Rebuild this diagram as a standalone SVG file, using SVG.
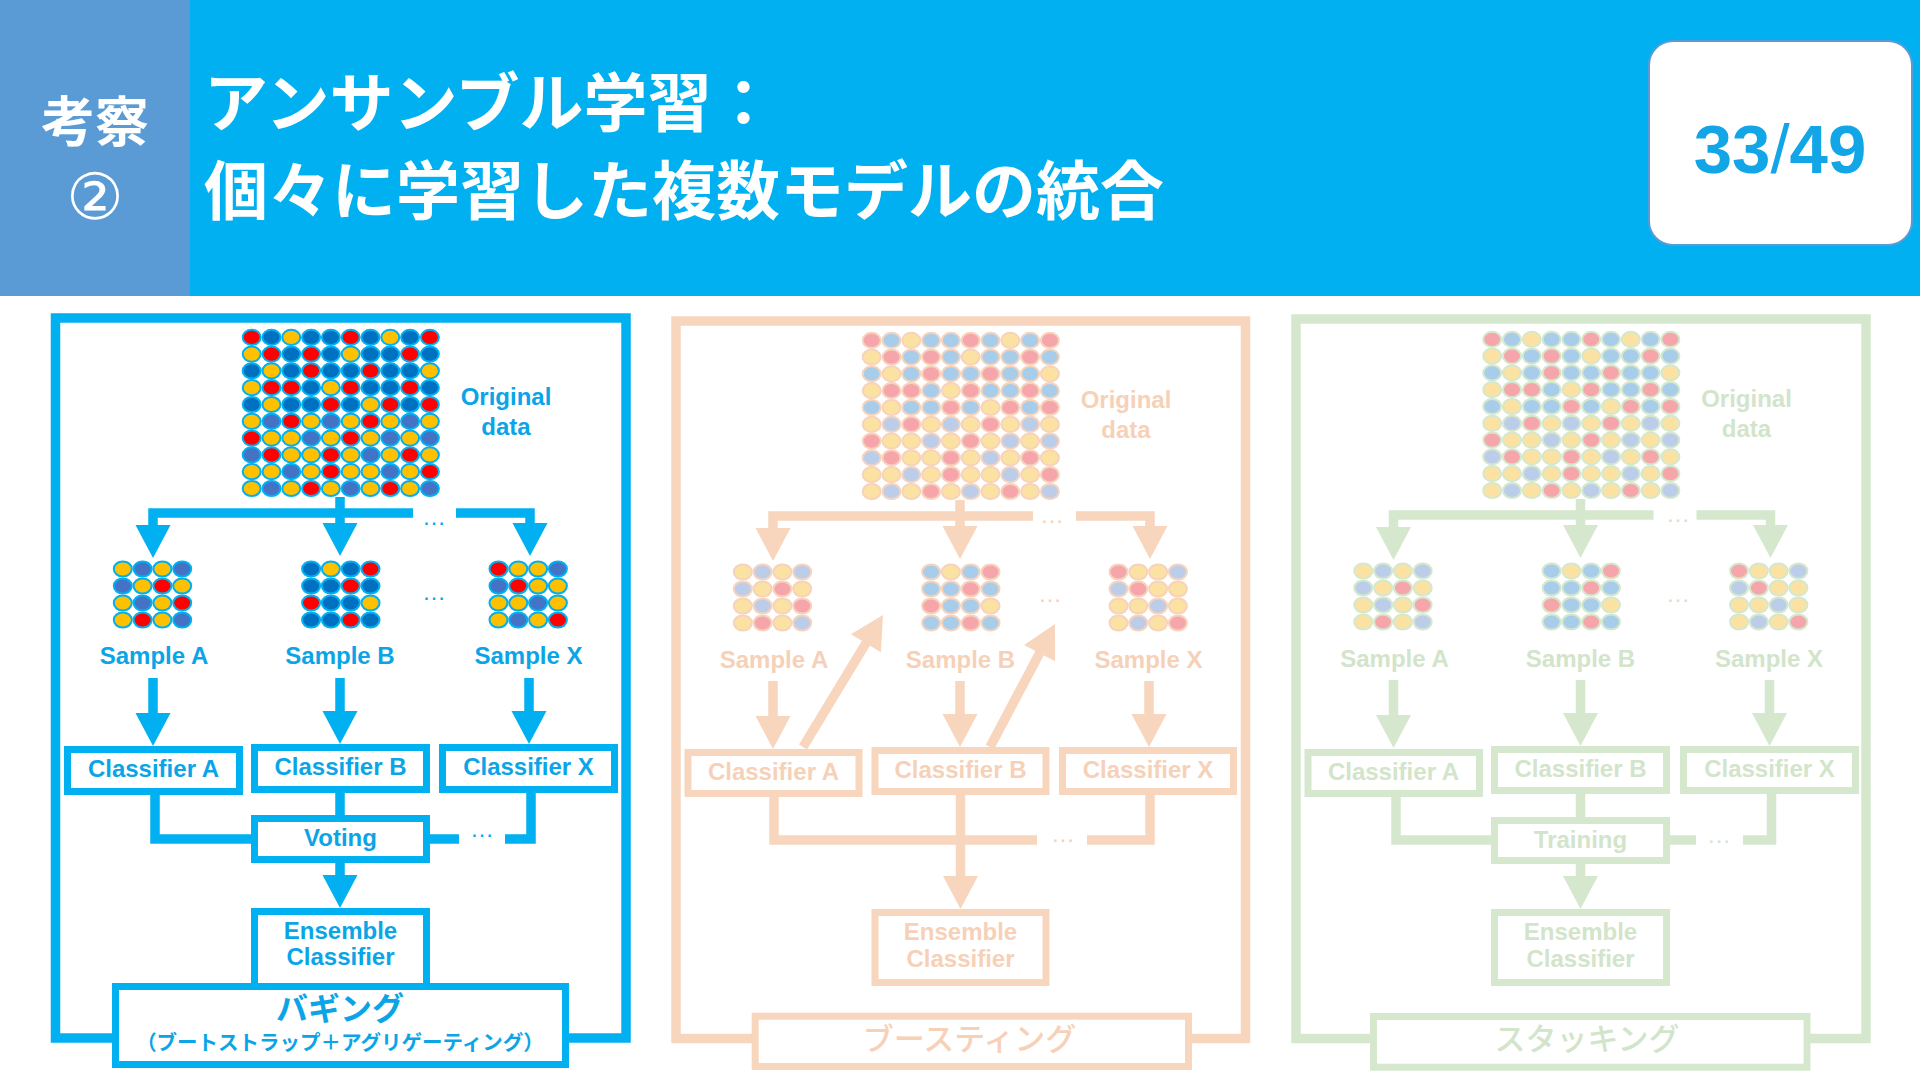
<svg xmlns="http://www.w3.org/2000/svg" xmlns:xlink="http://www.w3.org/1999/xlink" width="1920" height="1080" viewBox="0 0 1920 1080">
<style>
.lbl{font-family:"Liberation Sans",Arial,sans-serif;font-weight:bold;font-size:24px;text-anchor:middle}
.jp{font-family:"Noto Sans CJK JP","Noto Sans CJK SC",sans-serif}
.dots3{font-family:"Liberation Sans",Arial,sans-serif;font-size:24px;text-anchor:middle}
.ln{fill:none;stroke-width:9.5;stroke-linejoin:miter;stroke-linecap:butt}
.fr{fill:none;stroke-width:9.5}
.bx{fill:#fff;stroke-width:7}
.p1 .ln,.p1 .fr,.p1 .bx{stroke:#00B0F0}
.p1 .tx{fill:#0BA5E7}
.p1 .ah{fill:#00B0F0;stroke:none}
.p1 use.d{stroke:#00B0F0;stroke-width:2}
.p1 .cR{fill:#FF0000}.p1 .cB{fill:#0070C0}.p1 .cY{fill:#FFC000}.p1 .cM{fill:#4472C4}
.p2 .ln,.p2 .fr,.p2 .bx{stroke:#F8D5BD}
.p2 .tx{fill:#F6D1B8}
.p2 .ah{fill:#F8D5BD;stroke:none}
.p2 use.d{stroke:#F6D3BC;stroke-width:2}
.p3 .ln,.p3 .fr,.p3 .bx{stroke:#D5E8CE}
.p3 .tx{fill:#D2E4CA}
.p3 .ah{fill:#D5E8CE;stroke:none}
.p3 use.d{stroke:#D5E8CE;stroke-width:2}
.p2 .cR,.p3 .cR{fill:#F6A6AA}.p2 .cB,.p3 .cB{fill:#A8CDEA}.p2 .cY,.p3 .cY{fill:#FCE2A2}.p2 .cM,.p3 .cM{fill:#BCCDEA}
</style>
<defs>
<path id="ah" d="M-17.5,-33H17.5L0,0Z"/>
<g id="bR">
<ellipse cx="0" cy="0" rx="9" ry="7.6"/><ellipse cx="99" cy="0" rx="9" ry="7.6"/><ellipse cx="178.2" cy="0" rx="9" ry="7.6"/>
<ellipse cx="19.8" cy="16.8" rx="9" ry="7.6"/><ellipse cx="59.4" cy="16.8" rx="9" ry="7.6"/><ellipse cx="158.4" cy="16.8" rx="9" ry="7.6"/>
<ellipse cx="59.4" cy="33.6" rx="9" ry="7.6"/><ellipse cx="118.8" cy="33.6" rx="9" ry="7.6"/>
<ellipse cx="19.8" cy="50.4" rx="9" ry="7.6"/><ellipse cx="39.6" cy="50.4" rx="9" ry="7.6"/><ellipse cx="99" cy="50.4" rx="9" ry="7.6"/><ellipse cx="158.4" cy="50.4" rx="9" ry="7.6"/>
<ellipse cx="79.2" cy="67.2" rx="9" ry="7.6"/><ellipse cx="138.6" cy="67.2" rx="9" ry="7.6"/><ellipse cx="178.2" cy="67.2" rx="9" ry="7.6"/>
<ellipse cx="39.6" cy="84" rx="9" ry="7.6"/><ellipse cx="118.8" cy="84" rx="9" ry="7.6"/>
<ellipse cx="0" cy="100.8" rx="9" ry="7.6"/><ellipse cx="99" cy="100.8" rx="9" ry="7.6"/>
<ellipse cx="19.8" cy="117.6" rx="9" ry="7.6"/><ellipse cx="79.2" cy="117.6" rx="9" ry="7.6"/><ellipse cx="158.4" cy="117.6" rx="9" ry="7.6"/>
<ellipse cx="79.2" cy="134.4" rx="9" ry="7.6"/><ellipse cx="178.2" cy="134.4" rx="9" ry="7.6"/>
<ellipse cx="59.4" cy="151.2" rx="9" ry="7.6"/><ellipse cx="138.6" cy="151.2" rx="9" ry="7.6"/>
</g>
<g id="bB">
<ellipse cx="19.8" cy="0" rx="9" ry="7.6"/><ellipse cx="59.4" cy="0" rx="9" ry="7.6"/><ellipse cx="79.2" cy="0" rx="9" ry="7.6"/><ellipse cx="118.8" cy="0" rx="9" ry="7.6"/><ellipse cx="158.4" cy="0" rx="9" ry="7.6"/>
<ellipse cx="39.6" cy="16.8" rx="9" ry="7.6"/><ellipse cx="79.2" cy="16.8" rx="9" ry="7.6"/><ellipse cx="118.8" cy="16.8" rx="9" ry="7.6"/><ellipse cx="138.6" cy="16.8" rx="9" ry="7.6"/><ellipse cx="178.2" cy="16.8" rx="9" ry="7.6"/>
<ellipse cx="0" cy="33.6" rx="9" ry="7.6"/><ellipse cx="39.6" cy="33.6" rx="9" ry="7.6"/><ellipse cx="79.2" cy="33.6" rx="9" ry="7.6"/><ellipse cx="99" cy="33.6" rx="9" ry="7.6"/><ellipse cx="138.6" cy="33.6" rx="9" ry="7.6"/><ellipse cx="158.4" cy="33.6" rx="9" ry="7.6"/>
<ellipse cx="59.4" cy="50.4" rx="9" ry="7.6"/><ellipse cx="118.8" cy="50.4" rx="9" ry="7.6"/><ellipse cx="138.6" cy="50.4" rx="9" ry="7.6"/><ellipse cx="178.2" cy="50.4" rx="9" ry="7.6"/>
<ellipse cx="0" cy="67.2" rx="9" ry="7.6"/><ellipse cx="39.6" cy="67.2" rx="9" ry="7.6"/><ellipse cx="59.4" cy="67.2" rx="9" ry="7.6"/><ellipse cx="99" cy="67.2" rx="9" ry="7.6"/><ellipse cx="158.4" cy="67.2" rx="9" ry="7.6"/>
</g>
<g id="bY">
<ellipse cx="39.6" cy="0" rx="9" ry="7.6"/><ellipse cx="138.6" cy="0" rx="9" ry="7.6"/>
<ellipse cx="0" cy="16.8" rx="9" ry="7.6"/><ellipse cx="99" cy="16.8" rx="9" ry="7.6"/>
<ellipse cx="19.8" cy="33.6" rx="9" ry="7.6"/><ellipse cx="178.2" cy="33.6" rx="9" ry="7.6"/>
<ellipse cx="0" cy="50.4" rx="9" ry="7.6"/><ellipse cx="79.2" cy="50.4" rx="9" ry="7.6"/>
<ellipse cx="19.8" cy="67.2" rx="9" ry="7.6"/><ellipse cx="118.8" cy="67.2" rx="9" ry="7.6"/>
<ellipse cx="0" cy="84" rx="9" ry="7.6"/><ellipse cx="59.4" cy="84" rx="9" ry="7.6"/><ellipse cx="99" cy="84" rx="9" ry="7.6"/><ellipse cx="138.6" cy="84" rx="9" ry="7.6"/><ellipse cx="178.2" cy="84" rx="9" ry="7.6"/>
<ellipse cx="19.8" cy="100.8" rx="9" ry="7.6"/><ellipse cx="39.6" cy="100.8" rx="9" ry="7.6"/><ellipse cx="79.2" cy="100.8" rx="9" ry="7.6"/><ellipse cx="118.8" cy="100.8" rx="9" ry="7.6"/><ellipse cx="158.4" cy="100.8" rx="9" ry="7.6"/>
<ellipse cx="39.6" cy="117.6" rx="9" ry="7.6"/><ellipse cx="59.4" cy="117.6" rx="9" ry="7.6"/><ellipse cx="99" cy="117.6" rx="9" ry="7.6"/><ellipse cx="138.6" cy="117.6" rx="9" ry="7.6"/><ellipse cx="178.2" cy="117.6" rx="9" ry="7.6"/>
<ellipse cx="0" cy="134.4" rx="9" ry="7.6"/><ellipse cx="19.8" cy="134.4" rx="9" ry="7.6"/><ellipse cx="59.4" cy="134.4" rx="9" ry="7.6"/><ellipse cx="99" cy="134.4" rx="9" ry="7.6"/><ellipse cx="118.8" cy="134.4" rx="9" ry="7.6"/><ellipse cx="158.4" cy="134.4" rx="9" ry="7.6"/>
<ellipse cx="0" cy="151.2" rx="9" ry="7.6"/><ellipse cx="39.6" cy="151.2" rx="9" ry="7.6"/><ellipse cx="79.2" cy="151.2" rx="9" ry="7.6"/><ellipse cx="118.8" cy="151.2" rx="9" ry="7.6"/><ellipse cx="158.4" cy="151.2" rx="9" ry="7.6"/>
</g>
<g id="bM">
<ellipse cx="19.8" cy="84" rx="9" ry="7.6"/><ellipse cx="79.2" cy="84" rx="9" ry="7.6"/><ellipse cx="158.4" cy="84" rx="9" ry="7.6"/>
<ellipse cx="59.4" cy="100.8" rx="9" ry="7.6"/><ellipse cx="138.6" cy="100.8" rx="9" ry="7.6"/><ellipse cx="178.2" cy="100.8" rx="9" ry="7.6"/>
<ellipse cx="0" cy="117.6" rx="9" ry="7.6"/><ellipse cx="118.8" cy="117.6" rx="9" ry="7.6"/>
<ellipse cx="39.6" cy="134.4" rx="9" ry="7.6"/><ellipse cx="138.6" cy="134.4" rx="9" ry="7.6"/>
<ellipse cx="19.8" cy="151.2" rx="9" ry="7.6"/><ellipse cx="99" cy="151.2" rx="9" ry="7.6"/><ellipse cx="178.2" cy="151.2" rx="9" ry="7.6"/>
</g>
<g id="aY"><ellipse cx="0" cy="0" rx="9" ry="7.6"/><ellipse cx="39.6" cy="0" rx="9" ry="7.6"/><ellipse cx="19.8" cy="17" rx="9" ry="7.6"/><ellipse cx="59.4" cy="17" rx="9" ry="7.6"/><ellipse cx="0" cy="34" rx="9" ry="7.6"/><ellipse cx="39.6" cy="34" rx="9" ry="7.6"/><ellipse cx="0" cy="51" rx="9" ry="7.6"/><ellipse cx="39.6" cy="51" rx="9" ry="7.6"/></g>
<g id="aM"><ellipse cx="19.8" cy="0" rx="9" ry="7.6"/><ellipse cx="59.4" cy="0" rx="9" ry="7.6"/><ellipse cx="0" cy="17" rx="9" ry="7.6"/><ellipse cx="19.8" cy="34" rx="9" ry="7.6"/><ellipse cx="59.4" cy="51" rx="9" ry="7.6"/></g>
<g id="aR"><ellipse cx="39.6" cy="17" rx="9" ry="7.6"/><ellipse cx="59.4" cy="34" rx="9" ry="7.6"/><ellipse cx="19.8" cy="51" rx="9" ry="7.6"/></g>
<g id="sbB"><ellipse cx="0" cy="0" rx="9" ry="7.6"/><ellipse cx="39.6" cy="0" rx="9" ry="7.6"/><ellipse cx="0" cy="17" rx="9" ry="7.6"/><ellipse cx="19.8" cy="17" rx="9" ry="7.6"/><ellipse cx="59.4" cy="17" rx="9" ry="7.6"/><ellipse cx="19.8" cy="34" rx="9" ry="7.6"/><ellipse cx="39.6" cy="34" rx="9" ry="7.6"/><ellipse cx="0" cy="51" rx="9" ry="7.6"/><ellipse cx="19.8" cy="51" rx="9" ry="7.6"/><ellipse cx="59.4" cy="51" rx="9" ry="7.6"/></g>
<g id="sbY"><ellipse cx="19.8" cy="0" rx="9" ry="7.6"/><ellipse cx="59.4" cy="34" rx="9" ry="7.6"/></g>
<g id="sbR"><ellipse cx="59.4" cy="0" rx="9" ry="7.6"/><ellipse cx="39.6" cy="17" rx="9" ry="7.6"/><ellipse cx="0" cy="34" rx="9" ry="7.6"/><ellipse cx="39.6" cy="51" rx="9" ry="7.6"/></g>
<g id="xR"><ellipse cx="0" cy="0" rx="9" ry="7.6"/><ellipse cx="19.8" cy="17" rx="9" ry="7.6"/><ellipse cx="59.4" cy="51" rx="9" ry="7.6"/></g>
<g id="xY"><ellipse cx="19.8" cy="0" rx="9" ry="7.6"/><ellipse cx="39.6" cy="0" rx="9" ry="7.6"/><ellipse cx="39.6" cy="17" rx="9" ry="7.6"/><ellipse cx="59.4" cy="17" rx="9" ry="7.6"/><ellipse cx="0" cy="34" rx="9" ry="7.6"/><ellipse cx="19.8" cy="34" rx="9" ry="7.6"/><ellipse cx="59.4" cy="34" rx="9" ry="7.6"/><ellipse cx="0" cy="51" rx="9" ry="7.6"/><ellipse cx="39.6" cy="51" rx="9" ry="7.6"/></g>
<g id="xM"><ellipse cx="59.4" cy="0" rx="9" ry="7.6"/><ellipse cx="0" cy="17" rx="9" ry="7.6"/><ellipse cx="39.6" cy="34" rx="9" ry="7.6"/><ellipse cx="19.8" cy="51" rx="9" ry="7.6"/></g>
</defs>

<rect width="1920" height="1080" fill="#ffffff"/>

<g id="header">
<rect x="190" y="0" width="1730" height="296" fill="#00B0F0"/>
<rect x="0" y="0" width="190" height="296" fill="#5B9BD5"/>
<text class="jp" x="95" y="142" font-size="54" font-weight="bold" fill="#fff" text-anchor="middle">考察</text>
<text x="95" y="218.5" font-family="DejaVu Sans, sans-serif" font-size="64" fill="#fff" text-anchor="middle">②</text>
<text class="jp" x="204" y="126" font-size="64" font-weight="bold" fill="#fff">アンサンブル学習：</text>
<text class="jp" x="204" y="214" font-size="64" font-weight="bold" fill="#fff">個々に学習した複数モデルの統合</text>
<rect x="1649" y="41" width="263" height="204" rx="24" fill="#fff" stroke="#5B9BD5" stroke-width="2"/>
<text x="1780" y="173" font-family="Liberation Sans, Arial, sans-serif" font-size="69" font-weight="bold" fill="#12A6E6" text-anchor="middle">33<tspan font-weight="normal">/</tspan>49</text>
</g>

<g id="frames">
<rect class="p1 fr" x="55.5" y="318" width="570.5" height="720" style="stroke:#00B0F0"/>
<rect x="676" y="321" width="569.5" height="717.5" style="fill:none;stroke:#F8D5BD;stroke-width:9.5"/>
<rect x="1296" y="319" width="570" height="719.5" style="fill:none;stroke:#D5E8CE;stroke-width:9.5"/>
</g>

<g id="connectors">
<g class="p1">
<path class="ln" d="M340,497V526M413,513H153V526M456,513H530V526"/>
<use href="#ah" class="ah" x="153" y="558"/><use href="#ah" class="ah" x="340" y="556"/><use href="#ah" class="ah" x="530" y="556"/>
<path class="ln" d="M153,678V716M340,678V714M529,678V714"/>
<use href="#ah" class="ah" x="153" y="746"/><use href="#ah" class="ah" x="340" y="744"/><use href="#ah" class="ah" x="529" y="744"/>
<path class="ln" d="M155,795V839H254M340,793V818M430,839H459M505,839H531V793M340,863V878"/>
<use href="#ah" class="ah" x="340" y="908"/>
<text class="dots3 tx" x="434" y="525">…</text>
<text class="dots3 tx" x="434" y="600">…</text>
<text class="dots3 tx" x="482" y="837">…</text>
</g>
<g class="p2" transform="translate(620,3)">
<path class="ln" d="M340,497V526M413,513H153V526M456,513H530V526"/>
<use href="#ah" class="ah" x="153" y="558"/><use href="#ah" class="ah" x="340" y="556"/><use href="#ah" class="ah" x="530" y="556"/>
<path class="ln" d="M153,678V716M340,678V714M529,678V714"/>
<use href="#ah" class="ah" x="153" y="746"/><use href="#ah" class="ah" x="340" y="744"/><use href="#ah" class="ah" x="529" y="744"/>
<path class="ln" d="M183,744L247.5,637.6M370,744L421,647.5"/>
<use href="#ah" class="ah" transform="translate(263,612) rotate(-148.8)"/>
<use href="#ah" class="ah" transform="translate(435,621) rotate(-152.2)"/>
<path class="ln" d="M154,794V837H417M467,837H530V792M340.5,792V876"/>
<use href="#ah" class="ah" x="340.5" y="906"/>
<text class="dots3 tx" x="432" y="520">…</text>
<text class="dots3 tx" x="430" y="599">…</text>
<text class="dots3 tx" x="443" y="839">…</text>
</g>
<g class="p3" transform="translate(1240.5,2)">
<path class="ln" d="M340,497V526M413,513H153V526M456,513H530V526"/>
<use href="#ah" class="ah" x="153" y="558"/><use href="#ah" class="ah" x="340" y="556"/><use href="#ah" class="ah" x="530" y="556"/>
<path class="ln" d="M153,678V716M340,678V714M529,678V714"/>
<use href="#ah" class="ah" x="153" y="746"/><use href="#ah" class="ah" x="340" y="744"/><use href="#ah" class="ah" x="529" y="744"/>
<path class="ln" d="M155.5,795V838H254M340,792V815M429.5,838H455.5M502.5,838H531V792M340,862V877"/>
<use href="#ah" class="ah" x="340" y="907"/>
<text class="dots3 tx" x="437.5" y="520">…</text>
<text class="dots3 tx" x="437.5" y="600">…</text>
<text class="dots3 tx" x="478.5" y="841">…</text>
</g>
</g>

<g id="panel-bagging" class="p1">
<g id="bag-original-data">
<g transform="translate(251.7,337.3)"><use href="#bR" class="d cR"/><use href="#bB" class="d cB"/><use href="#bY" class="d cY"/><use href="#bM" class="d cM"/></g>
<text class="lbl tx" x="506" y="405">Original</text><text class="lbl tx" x="506" y="435">data</text>
</g>
<g id="bag-sample-a"><g transform="translate(122.8,569)"><use href="#aY" class="d cY"/><use href="#aM" class="d cM"/><use href="#aR" class="d cR"/></g><text class="lbl tx" x="154" y="664">Sample A</text></g>
<g id="bag-sample-b"><g transform="translate(311.1,569)"><use href="#sbB" class="d cB"/><use href="#sbY" class="d cY"/><use href="#sbR" class="d cR"/></g><text class="lbl tx" x="340" y="664">Sample B</text></g>
<g id="bag-sample-x"><g transform="translate(498.5,569)"><use href="#xR" class="d cR"/><use href="#xY" class="d cY"/><use href="#xM" class="d cM"/></g><text class="lbl tx" x="528.5" y="664">Sample X</text></g>
<g id="bag-classifier-a"><rect class="bx" x="67.5" y="749.5" width="172" height="42"/><text class="lbl tx" x="153.5" y="777">Classifier A</text></g>
<g id="bag-classifier-b"><rect class="bx" x="254.5" y="747.5" width="172" height="42"/><text class="lbl tx" x="340.5" y="775">Classifier B</text></g>
<g id="bag-classifier-x"><rect class="bx" x="442.5" y="747.5" width="172" height="42"/><text class="lbl tx" x="528.5" y="775">Classifier X</text></g>
<g id="bag-voting"><rect class="bx" x="254.5" y="818.5" width="172" height="41"/><text class="lbl tx" x="340.5" y="846">Voting</text></g>
<g id="bag-ensemble"><rect class="bx" x="254.5" y="911.5" width="172" height="80"/><text class="lbl tx" x="340.5" y="939">Ensemble</text><text class="lbl tx" x="340.5" y="965">Classifier</text></g>
<g id="bag-label"><rect class="bx" x="115.5" y="986.5" width="450" height="78"/>
<text class="jp tx" x="340" y="1020" font-size="32" font-weight="bold" text-anchor="middle">バギング</text>
<text class="jp tx" x="340" y="1050" font-size="20.5" font-weight="bold" text-anchor="middle">（ブートストラップ＋アグリゲーティング）</text></g>
</g>

<g id="panel-boosting" class="p2" transform="translate(620,3)">
<g id="boost-original-data">
<g transform="translate(251.7,337.3)"><use href="#bR" class="d cR"/><use href="#bB" class="d cB"/><use href="#bY" class="d cY"/><use href="#bM" class="d cM"/></g>
<text class="lbl tx" x="506" y="405">Original</text><text class="lbl tx" x="506" y="435">data</text>
</g>
<g id="boost-sample-a"><g transform="translate(122.8,569)"><use href="#aY" class="d cY"/><use href="#aM" class="d cM"/><use href="#aR" class="d cR"/></g><text class="lbl tx" x="154" y="665">Sample A</text></g>
<g id="boost-sample-b"><g transform="translate(311.1,569)"><use href="#sbB" class="d cB"/><use href="#sbY" class="d cY"/><use href="#sbR" class="d cR"/></g><text class="lbl tx" x="340.5" y="665">Sample B</text></g>
<g id="boost-sample-x"><g transform="translate(498.5,569)"><use href="#xR" class="d cR"/><use href="#xY" class="d cY"/><use href="#xM" class="d cM"/></g><text class="lbl tx" x="528.5" y="665">Sample X</text></g>
<g id="boost-classifier-a"><rect class="bx" x="68" y="749.5" width="171" height="41"/><text class="lbl tx" x="153.5" y="777">Classifier A</text></g>
<g id="boost-classifier-b"><rect class="bx" x="255" y="747.5" width="171" height="41"/><text class="lbl tx" x="340.5" y="775">Classifier B</text></g>
<g id="boost-classifier-x"><rect class="bx" x="442.5" y="747.5" width="171" height="41"/><text class="lbl tx" x="528" y="775">Classifier X</text></g>
<g id="boost-ensemble"><rect class="bx" x="255" y="909.5" width="171" height="70"/><text class="lbl tx" x="340.5" y="937">Ensemble</text><text class="lbl tx" x="340.5" y="964">Classifier</text></g>
<g id="boost-label"><rect class="bx" x="135.2" y="1013.2" width="433.3" height="50.3"/>
<text class="jp tx" x="349.5" y="1047" font-size="31" font-weight="500" text-anchor="middle">ブースティング</text></g>
</g>

<g id="panel-stacking" class="p3" transform="translate(1240.5,2)">
<g id="stack-original-data">
<g transform="translate(251.7,337.3)"><use href="#bR" class="d cR"/><use href="#bB" class="d cB"/><use href="#bY" class="d cY"/><use href="#bM" class="d cM"/></g>
<text class="lbl tx" x="506" y="405">Original</text><text class="lbl tx" x="506" y="435">data</text>
</g>
<g id="stack-sample-a"><g transform="translate(122.8,569)"><use href="#aY" class="d cY"/><use href="#aM" class="d cM"/><use href="#aR" class="d cR"/></g><text class="lbl tx" x="154" y="665">Sample A</text></g>
<g id="stack-sample-b"><g transform="translate(311.1,569)"><use href="#sbB" class="d cB"/><use href="#sbY" class="d cY"/><use href="#sbR" class="d cR"/></g><text class="lbl tx" x="340" y="665">Sample B</text></g>
<g id="stack-sample-x"><g transform="translate(498.5,569)"><use href="#xR" class="d cR"/><use href="#xY" class="d cY"/><use href="#xM" class="d cM"/></g><text class="lbl tx" x="528.5" y="665">Sample X</text></g>
<g id="stack-classifier-a"><rect class="bx" x="67.5" y="750.5" width="171.5" height="41"/><text class="lbl tx" x="153" y="778">Classifier A</text></g>
<g id="stack-classifier-b"><rect class="bx" x="254" y="747.5" width="172" height="41"/><text class="lbl tx" x="340" y="775">Classifier B</text></g>
<g id="stack-classifier-x"><rect class="bx" x="443" y="747.5" width="172" height="41"/><text class="lbl tx" x="529" y="775">Classifier X</text></g>
<g id="stack-training"><rect class="bx" x="254" y="818.5" width="172" height="40"/><text class="lbl tx" x="340" y="846">Training</text></g>
<g id="stack-ensemble"><rect class="bx" x="254" y="910.5" width="172" height="70"/><text class="lbl tx" x="340" y="938">Ensemble</text><text class="lbl tx" x="340" y="965">Classifier</text></g>
<g id="stack-label"><rect class="bx" x="133" y="1014.5" width="433.5" height="50.7"/>
<text class="jp tx" x="346.5" y="1048" font-size="31" font-weight="500" text-anchor="middle">スタッキング</text></g>
</g>
</svg>
